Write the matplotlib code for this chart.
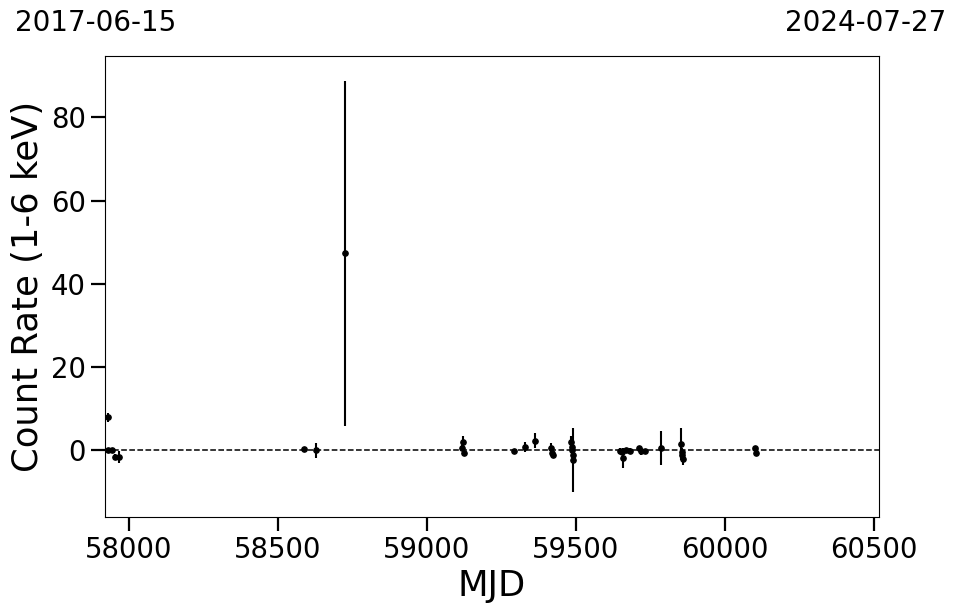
import matplotlib
matplotlib.use("Agg")
import matplotlib.pyplot as plt

# light curve values
mjd = [57931, 57931, 57945, 57955, 57969,
       58588, 58630, 58725,
       59117, 59122, 59125, 59292, 59330, 59364,
       59417, 59420, 59423,
       59484, 59486, 59488, 59490, 59492,
       59648, 59655, 59659, 59668, 59682,
       59713, 59720, 59732,
       59785,
       59852, 59855, 59857, 59860,
       60101, 60103]
rate = [7.9, -0.1, 0.0, -1.6, -1.6,
        0.3, 0.0, 47.3,
        0.6, 2.0, -0.8, -0.25, 0.8, 2.2,
        0.4, -0.7, -1.2,
        2.0, 0.8, 0.0, -1.2, -2.4,
        -0.2, -0.4, -2.0, 0.0, -0.2,
        0.4, -0.3, -0.3,
        0.4,
        1.5, -0.4, -1.2, -2.2,
        0.4, -0.6]
err = [1.1, 0.5, 0.4, 0.7, 1.4,
       0.3, 1.8, 41.5,
       0.6, 1.4, 0.4, 0.3, 1.2, 1.8,
       1.2, 0.8, 0.5,
       1.5, 1.2, 1.0, 1.0, 7.6,
       0.6, 0.6, 2.4, 0.6, 0.6,
       0.5, 0.9, 0.5,
       4.1,
       3.8, 0.8, 0.8, 1.4,
       0.6, 0.6]

start_label = "2017-06-15"
end_label = "2024-07-27"
mjd_start = 57919
mjd_end = 60518

fig = plt.figure(figsize=(9.57, 6.13), dpi=100)
ax = fig.add_axes([104.5/957, (613-517)/613, (879.3-104.5)/957, (517-55.5)/613])

ax.errorbar(mjd, rate, yerr=err, fmt="o", color="black", markersize=3.8,
            elinewidth=1.5, capsize=0)
ax.axhline(0, color="black", linestyle="--", linewidth=1.1)

ax.set_xlim(mjd_start, mjd_end)
ax.set_ylim(-16.1, 94.9)
ax.set_xticks([58000, 58500, 59000, 59500, 60000, 60500])
ax.set_yticks([0, 20, 40, 60, 80])
ax.tick_params(axis="both", labelsize=19.8, length=10, width=1.6)

ax.set_xlabel("MJD", fontsize=25.5)
ax.set_ylabel("Count Rate (1-6 keV)", fontsize=25.5)

fig.text(15/957, (613-31)/613, start_label, fontsize=20, ha="left", va="baseline")
fig.text(946/957, (613-31)/613, end_label, fontsize=20, ha="right", va="baseline")

fig.savefig("out.png", dpi=100)
